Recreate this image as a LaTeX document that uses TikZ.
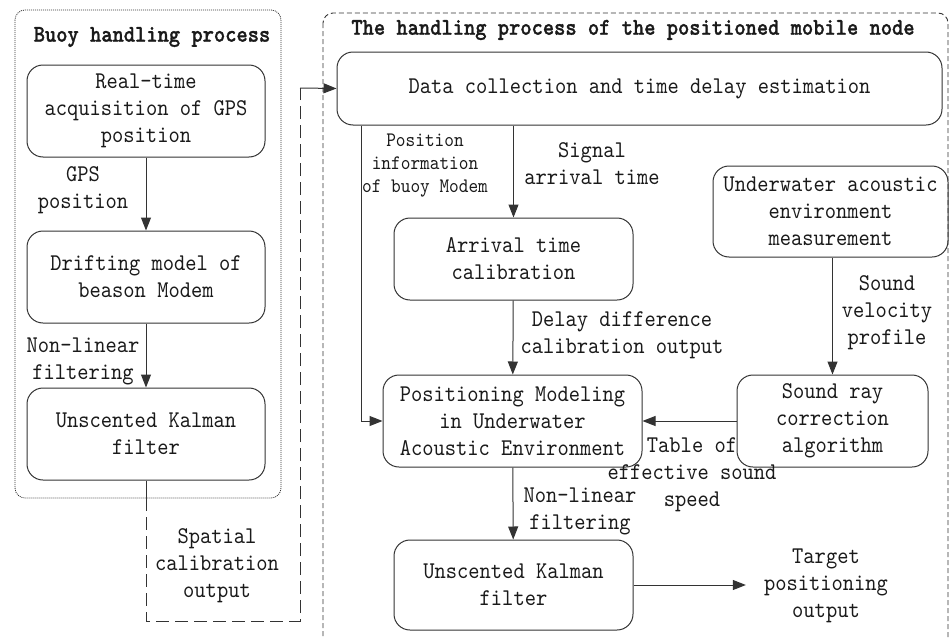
\documentclass[tikz,border=0pt]{standalone}
\usepackage{fontspec}
\setmainfont{lmmono10-regular.otf}[FakeStretch=0.894,BoldFont=lmmonolt10-bold.otf,BoldFeatures={FakeBold=1.2}]
\usepackage{xcolor}
\definecolor{flowline}{HTML}{333333}
\definecolor{flowtext}{HTML}{1A1A1A}
\usepackage{tikz}
\usetikzlibrary{arrows.meta}
\newcommand{\boxfont}{\fontsize{24}{27}\selectfont}
\newcommand{\notefont}{\fontsize{20.6}{23}\selectfont}

\begin{document}
\begin{tikzpicture}[x=1pt,y=-1pt,
    procbox/.style={draw=flowline, line width=1pt, rounded corners=16pt, align=center, inner sep=0pt, font=\boxfont, text=flowtext},
    lbl/.style={align=center, inner sep=0pt, font=\boxfont, text=flowtext},
    flow/.style={draw=flowline, line width=1pt, -{Triangle[length=13pt,width=10pt]}}]
  \useasboundingbox (0,0) rectangle (950,637);
  % group frames
  \draw[flowline, line width=0.8pt, dash pattern=on 1pt off 1pt, rounded corners=10pt] (15,10) rectangle (281,498);
  \draw[flowline, line width=0.9pt, dash pattern=on 5pt off 3pt, rounded corners=10pt] (323,13) rectangle (948,650);
  \node[lbl, font=\boxfont\bfseries] (buoytitle) at (152,37) {Buoy handling process};
  \node[lbl, font=\boxfont\bfseries] (mobtitle) at (633,30) {The handling process of the positioned mobile node};
  % buoy side
  \node[procbox, minimum width=238pt, minimum height=92pt] (gps) at (146,111) {Real-time\\acquisition of GPS\\position};
  \node[procbox, minimum width=238pt, minimum height=92pt] (drift) at (146,277) {Drifting model of\\beason Modem};
  \node[procbox, minimum width=238pt, minimum height=92pt] (ukfa) at (146,434) {Unscented Kalman\\filter};
  \node[lbl] (gpsl) at (83,190) {GPS\\position};
  \node[lbl] (nlfa) at (83,361) {Non-linear\\filtering};
  \node[lbl] (spcl) at (217,566) {Spatial\\calibration\\output};
  % mobile node side
  \node[procbox, minimum width=605pt, minimum height=73pt] (dcol) at (639.5,88.5) {Data collection and time delay estimation};
  \node[procbox, minimum width=239pt, minimum height=82pt] (atc) at (513.5,259) {Arrival time\\calibration};
  \node[procbox, minimum width=235pt, minimum height=91pt] (uwm) at (830.5,211.5) {Underwater acoustic\\environment\\measurement};
  \node[procbox, minimum width=259pt, minimum height=92pt] (posm) at (512.5,421) {Positioning Modeling\\in Underwater\\Acoustic Environment};
  \node[procbox, minimum width=191pt, minimum height=92pt] (ray) at (832.5,421) {Sound ray\\correction\\algorithm};
  \node[procbox, minimum width=239pt, minimum height=90pt] (ukfb) at (513.5,585) {Unscented Kalman\\filter};
  \node[lbl, font=\notefont] (pinfo) at (425,166) {Position\\information\\of buoy Modem};
  \node[lbl] (sigl) at (592,164) {Signal\\arrival time};
  \node[lbl] (dell) at (622,335) {Delay difference\\calibration output};
  \node[lbl] (svpl) at (887,313) {Sound\\velocity\\profile};
  \node[lbl] (tabl) at (692,475) {Table of\\effective sound\\speed};
  \node[lbl] (nlfb) at (580,511) {Non-linear\\filtering};
  \node[lbl] (tout) at (826,586) {Target\\positioning\\output};
  % connectors
  \coordinate (cbot) at (146,498);
  \coordinate (spc) at (300,88);
  \coordinate (pv) at (361,0);
  \draw[flow] (gps) -- (drift);
  \draw[flow] (drift) -- (ukfa);
  \draw[flowline, line width=1pt] (ukfa.south) -- (cbot);
  \draw[flowline, line width=1pt, dash pattern=on 13pt off 6pt] (cbot) -- (146,621) -- (300,621) -- (spc);
  \draw[flow] (spc) -- (dcol.west);
  \draw[flow] (atc.north |- dcol.south) -- (atc.north);
  \draw[flow] (pv |- dcol.south) |- (posm.west);
  \draw[flow] (atc) -- (posm);
  \draw[flow] (uwm.south -| ray.north) -- (ray.north);
  \draw[flow] (ray) -- (posm);
  \draw[flow] (posm) -- (ukfb);
  \draw[flow, shorten >=18pt] (ukfb.east) -- (ukfb.east -| tout.west);
\end{tikzpicture}
\end{document}
